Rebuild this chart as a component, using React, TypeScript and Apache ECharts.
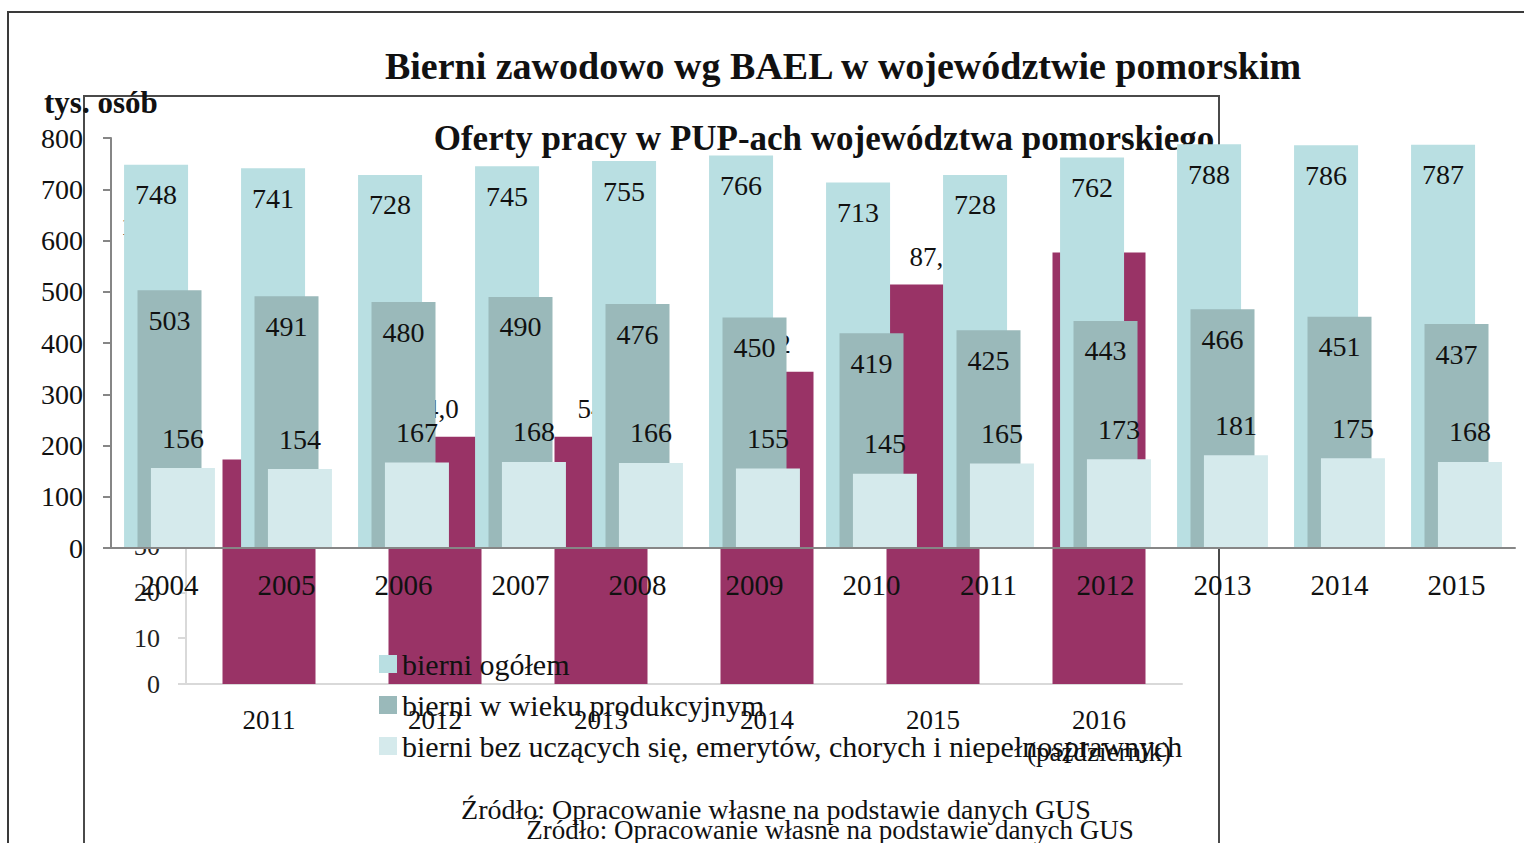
import React, { useEffect, useRef } from "react";
import * as echarts from "echarts";

const years = ["2004", "2005", "2006", "2007", "2008", "2009", "2010", "2011", "2012", "2013", "2014", "2015"];
const bierniOgolem = [748, 741, 728, 745, 755, 766, 713, 728, 762, 788, 786, 787];
const bierniProdukcyjny = [503, 491, 480, 490, 476, 450, 419, 425, 443, 466, 451, 437];
const bierniBez = [156, 154, 167, 168, 166, 155, 145, 165, 173, 181, 175, 168];
const seriesNames = [
  "bierni ogółem",
  "bierni w wieku produkcyjnym",
  "bierni bez uczących się, emerytów, chorych i niepełnosprawnych",
];
const ofertyYears = ["2011", "2012", "2013", "2014", "2015", "2016\n(październik)"];
const ofertyValues = [49.0, 54.0, 54.0, 68.2, 87.2, 94.2];

const FONT = "'Liberation Serif', 'DejaVu Serif', serif";

export default function App() {
  const ref = useRef<HTMLDivElement>(null);
  useEffect(() => {
    if (!ref.current) return;
    const chart = echarts.init(ref.current, null, { renderer: "svg" });
    const labelBase = { color: "#111", fontFamily: FONT, fontSize: 28 };
    chart.setOption({
      animation: false,
      backgroundColor: "#fff",
      textStyle: { fontFamily: FONT },
      legend: {
        orient: "vertical",
        left: 374,
        top: 644,
        itemWidth: 18,
        itemHeight: 18,
        itemGap: 11,
        icon: "rect",
        z: 6,
        textStyle: { color: "#111", fontFamily: FONT, fontSize: 30, lineHeight: 30 },
        data: seriesNames,
      },
      grid: [
        { left: 111, top: 138, width: 1404, height: 410, containLabel: false },
        { left: 186, top: 226, width: 996, height: 458, containLabel: false },
      ],
      xAxis: [
        {
          type: "category",
          gridIndex: 0,
          data: years,
          z: 4,
          axisLine: { lineStyle: { color: "#868686", width: 2 } },
          axisTick: { show: false },
          axisLabel: { ...labelBase, fontSize: 29, margin: 22, interval: 0 },
        },
        {
          type: "category",
          gridIndex: 1,
          data: ofertyYears,
          z: 1,
          axisLine: { lineStyle: { color: "#D9D9D9", width: 2 } },
          axisTick: { show: false },
          axisLabel: { color: "#111", fontFamily: FONT, fontSize: 27, lineHeight: 32, margin: 20, interval: 0 },
        },
      ],
      yAxis: [
        {
          type: "value",
          gridIndex: 0,
          min: 0,
          max: 800,
          interval: 100,
          z: 4,
          splitLine: { show: false },
          axisLine: { show: true, lineStyle: { color: "#868686", width: 2 } },
          axisTick: { show: true, length: 8, lineStyle: { color: "#868686", width: 2 } },
          axisLabel: { ...labelBase, margin: 28 },
        },
        {
          type: "value",
          gridIndex: 1,
          min: 0,
          max: 100,
          interval: 10,
          z: 1,
          splitLine: { show: false },
          axisLine: { show: true, lineStyle: { color: "#D9D9D9", width: 2 } },
          axisTick: { show: true, length: 8, lineStyle: { color: "#D9D9D9", width: 2 } },
          axisLabel: { color: "#222", fontFamily: FONT, fontSize: 26, margin: 26 },
        },
      ],
      series: [
        {
          name: "Oferty pracy",
          type: "bar",
          xAxisIndex: 1,
          yAxisIndex: 1,
          z: 1,
          data: ofertyValues,
          barWidth: 93,
          itemStyle: { color: "#993366" },
          label: {
            show: true,
            position: "top",
            distance: 14,
            color: "#111",
            fontFamily: FONT,
            fontSize: 27,
            formatter: (p: any) => p.value.toFixed(1).replace(".", ","),
          },
        },
        {
          name: seriesNames[0],
          type: "bar",
          xAxisIndex: 0,
          yAxisIndex: 0,
          z: 3,
          data: bierniOgolem,
          barWidth: 64,
          barGap: "-79%",
          itemStyle: { color: "#B9DFE2" },
          label: { show: true, position: "insideTop", distance: 16, ...labelBase },
        },
        {
          name: seriesNames[1],
          type: "bar",
          xAxisIndex: 0,
          yAxisIndex: 0,
          z: 3,
          data: bierniProdukcyjny,
          barWidth: 64,
          barGap: "-79%",
          itemStyle: { color: "#9AB9BA" },
          label: { show: true, position: "insideTop", distance: 16, ...labelBase },
        },
        {
          name: seriesNames[2],
          type: "bar",
          xAxisIndex: 0,
          yAxisIndex: 0,
          z: 3,
          data: bierniBez,
          barWidth: 64,
          barGap: "-79%",
          itemStyle: { color: "#D5EAEC" },
          label: { show: true, position: "top", distance: 16, ...labelBase },
        },
      ],
      graphic: [
        {
          type: "rect",
          z: 0,
          silent: true,
          shape: { x: 8, y: 12, width: 1540, height: 860 },
          style: { fill: "none", stroke: "#3A3A3A", lineWidth: 2 },
        },
        {
          type: "rect",
          z: 0,
          silent: true,
          shape: { x: 84, y: 96, width: 1135, height: 800 },
          style: { fill: "none", stroke: "#4A4A4A", lineWidth: 2 },
        },
        {
          type: "text",
          z: 2,
          x: 824,
          y: 138,
          style: {
            text: "Oferty pracy w PUP-ach województwa pomorskiego",
            fill: "#111",
            font: `bold 35px ${FONT}`,
            textAlign: "center",
            textVerticalAlign: "middle",
          },
        },
        {
          type: "text",
          z: 6,
          x: 843,
          y: 66,
          style: {
            text: "Bierni zawodowo wg BAEL w województwie pomorskim",
            fill: "#111",
            font: `bold 38px ${FONT}`,
            textAlign: "center",
            textVerticalAlign: "middle",
          },
        },
        {
          type: "text",
          z: 6,
          x: 44,
          y: 102,
          style: {
            text: "tys. osób",
            fill: "#111",
            font: `bold 31px ${FONT}`,
            textAlign: "left",
            textVerticalAlign: "middle",
          },
        },
        {
          type: "text",
          z: 6,
          x: 776,
          y: 809,
          style: {
            text: "Źródło: Opracowanie własne na podstawie danych GUS",
            fill: "#111",
            font: `28px ${FONT}`,
            textAlign: "center",
            textVerticalAlign: "middle",
          },
        },
        {
          type: "text",
          z: 2,
          x: 830,
          y: 830,
          style: {
            text: "Źródło: Opracowanie własne na podstawie danych GUS",
            fill: "#111",
            font: `27px ${FONT}`,
            textAlign: "center",
            textVerticalAlign: "middle",
          },
        },
      ],
    });
    return () => chart.dispose();
  }, []);
  return (
    <div
      ref={ref}
      style={{ position: "fixed", left: 0, top: 0, width: 1524, height: 843, background: "#fff" }}
    />
  );
}
